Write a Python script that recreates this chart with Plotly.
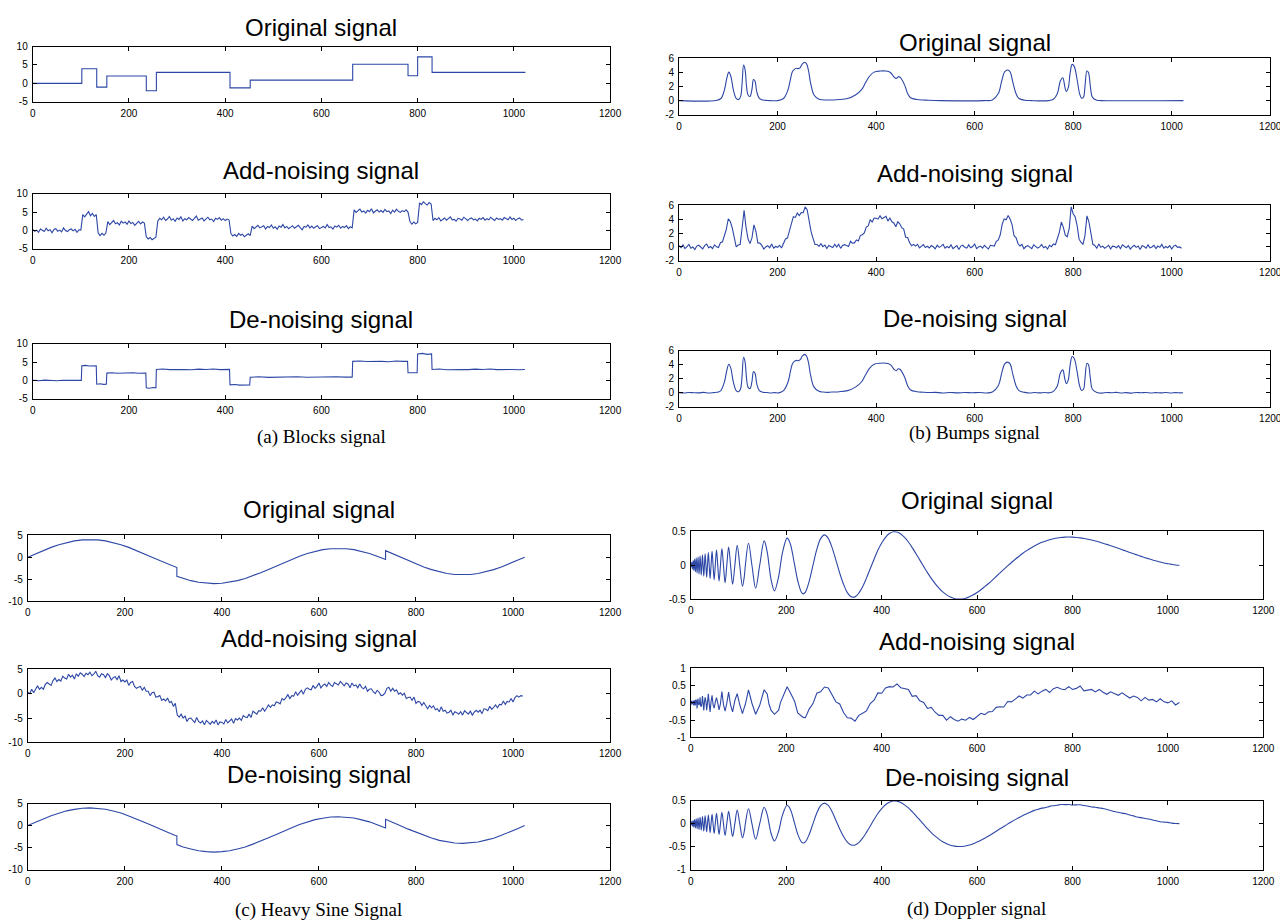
import numpy as np
import plotly.graph_objects as go

W, H = 1288, 920
BLUE = '#2d47a6'

# ---------------- Blocks ----------------
blocks_edges = [0, 102, 133, 154, 236, 257, 410, 452, 665, 780, 800, 830, 1024]
blocks_levels = [0, 4, -1, 2, -2, 3, -1.2, 0.9, 5.2, 2.1, 7.2, 3.0, 3.0]

blocks_noisy = [
    0.3, -0.2, 0.1, -0.5, 0.4, 0.0, -0.3, 0.6, -0.1, 0.2, -0.6, 0.3, 0.5, -0.2, 0.1, -0.4, 0.7, 0.0, -0.3, 0.2,
    0.4, -0.1, 0.3, -0.5, 0.2, 0.1,
    4.3, 3.7, 4.4, 5.1, 4.0, 4.6, 3.8, 4.3,
    -0.6, -1.4, -0.8, -1.3, -0.7,
    2.4, 1.6, 2.2, 2.7, 1.8, 2.1, 1.5, 2.5, 2.0, 2.3, 1.7, 2.6, 1.9, 2.2, 1.4, 2.1, 2.5, 1.8, 2.3, 2.0,
    -1.7, -2.3, -1.9, -2.5, -2.1, -1.8,
    2.6, 3.3, 2.9, 3.6, 2.7, 3.1, 3.8, 2.8, 3.2, 2.5, 3.4, 3.0, 3.7, 2.6, 3.2, 2.9, 3.5, 3.1, 2.7, 3.3,
    3.9, 2.8, 3.0, 3.4, 2.6, 3.2, 3.6, 2.9, 3.1, 2.4, 3.3, 3.0, 3.5, 2.8, 3.2, 2.7, 3.1, 2.9,
    -0.9, -1.5, -1.1, -1.6, -0.8, -1.3, -1.0, -1.7, -1.2, -0.9, -1.4,
    1.2, 0.5, 1.0, 1.4, 0.7, 0.9, 1.3, 0.4, 1.1, 0.8, 1.5, 0.6, 1.0, 0.3, 1.2, 0.9, 1.6, 0.7, 1.1, 0.5,
    0.9, 1.3, 0.6, 1.0, 1.4, 0.8, 0.2, 1.1, 0.9, 1.5, 0.7, 1.2, 0.6, 1.0, 1.3, 0.5, 0.9, 1.1, 0.7, 1.6,
    0.8, 1.0, 0.4, 1.2, 0.9, 1.4, 0.6, 1.1, 0.8, 1.3, 0.5, 1.0, 0.7,
    5.6, 4.9, 5.4, 5.8, 5.0, 5.3, 4.7, 5.5, 5.1, 5.9, 4.8, 5.2, 5.6, 5.0, 5.4, 4.9, 5.7, 5.1, 5.3, 4.6,
    5.5, 5.0, 5.8, 5.2, 4.9, 5.4, 5.1, 5.6, 5.0,
    2.4, 1.7, 2.3, 1.8, 2.2,
    7.5, 7.0, 7.8, 7.3, 6.9, 7.6, 7.2,
    2.7, 3.3, 2.9, 3.5, 2.6, 3.1, 3.4, 2.8, 3.2, 3.7, 2.9, 3.0, 2.5, 3.3, 3.1, 2.8, 3.6, 3.0, 2.7, 3.2,
    3.4, 2.9, 3.1, 2.6, 3.3, 3.0, 3.5, 2.8, 3.2, 2.9, 3.6, 3.1, 2.7, 3.4, 3.0, 3.2, 2.8, 3.5, 3.1, 2.9,
    3.7, 3.0, 3.3, 2.7, 3.2, 3.4, 2.8, 3.0,
]

blocks_dn_x = [0, 12, 25, 38, 50, 62, 75, 88, 101,
               102, 110, 118, 126, 132,
               133, 140, 147, 153,
               154, 165, 176, 187, 198, 209, 220, 235,
               236, 243, 250, 256,
               257, 270, 285, 300, 315, 330, 345, 360, 375, 390, 409,
               410, 420, 430, 440, 451,
               452, 470, 490, 510, 530, 550, 570, 590, 610, 630, 650, 664,
               665, 680, 695, 710, 725, 740, 755, 770, 779,
               780, 790, 799,
               800, 810, 820, 829,
               830, 845, 860, 875, 890, 905, 920, 935, 950, 965, 980, 995, 1010, 1023]
blocks_dn_y = [0.05, -0.05, 0.1, 0.0, -0.08, 0.06, 0.0, -0.05, 0.03,
               4.0, 4.1, 3.95, 4.05, 4.0,
               -1.0, -0.9, -1.05, -1.0,
               2.0, 2.1, 1.95, 2.05, 2.0, 2.08, 1.97, 2.0,
               -2.0, -2.1, -1.9, -2.0,
               3.0, 3.1, 2.95, 3.05, 3.0, 2.92, 3.08, 3.0, 3.1, 2.95, 3.0,
               -1.2, -1.1, -1.25, -1.15, -1.2,
               0.9, 1.0, 0.85, 0.95, 0.9, 1.0, 0.88, 0.95, 0.9, 1.02, 0.9, 0.9,
               5.2, 5.3, 5.15, 5.25, 5.2, 5.1, 5.28, 5.2, 5.2,
               2.1, 2.0, 2.1,
               7.2, 7.35, 7.1, 7.2,
               3.0, 3.1, 2.92, 3.05, 3.0, 2.95, 3.08, 3.0, 3.1, 2.95, 3.05, 3.0, 2.9, 3.0]

# ---------------- Bumps ----------------
bumps_x = [0, 75, 85, 92, 97, 101, 105, 110, 116, 121, 125, 128, 131, 134, 137, 140, 144, 148, 151, 154,
           158, 163, 170, 180, 200, 212, 221, 226, 230, 234, 238, 242, 246, 250, 255, 259, 263, 267, 274, 284,
           300, 325, 342, 358, 371, 379, 387, 396, 408, 420, 429, 437, 441, 445, 449, 458, 464, 470, 483, 507,
           530, 620, 636, 648, 655, 661, 667, 672, 677, 684, 690, 702, 715, 750, 760, 768, 774, 779, 783, 786,
           790, 794, 798, 802, 808, 813, 817, 821, 824, 828, 831, 835, 839, 848, 856, 1024]
bumps_y = [0, 0.02, 0.3, 1.5, 3.2, 4.05, 3.5, 1.6, 0.3, 0.15, 0.6, 2.5, 5.05, 4.4, 2.0, 0.8, 0.6, 1.6, 3.0, 2.8,
           1.2, 0.3, 0.08, 0.02, 0.0, 0.3, 1.5, 3.0, 4.1, 4.45, 4.6, 4.55, 4.7, 5.2, 5.45, 5.2, 4.2, 2.5, 0.8, 0.2,
           0.08, 0.15, 0.3, 0.8, 1.6, 2.6, 3.5, 4.05, 4.2, 4.2, 4.0, 3.3, 3.15, 3.4, 3.3, 2.2, 1.0, 0.4, 0.15, 0.05,
           0.0, 0.0, 0.1, 1.0, 2.8, 4.1, 4.35, 4.1, 2.8, 1.0, 0.3, 0.05, 0.0, 0.0, 0.2, 1.0, 2.8, 3.25, 2.0, 1.3,
           1.8, 4.0, 5.15, 4.9, 3.0, 1.0, 0.35, 0.5, 2.0, 4.2, 4.0, 2.0, 0.5, 0.05, 0.0, 0.0]

bumps_noisy = [
    0.18, -0.12, 0.3, -0.24, 0.06, 0.36, -0.18, 0.0, -0.36, 0.12, 0.24, -0.06, -0.3, 0.18, 0.42, -0.12,
    0.06, -0.24, 0.3, 0.02, -0.08, 0.61, 0.74, 1.62, 2.58, 4.08, 3.68, 2.74, 1.06, 0.0, 0.27, 0.34,
    2.74, 5.3, 2.8, 1.16, 0.48, 1.3, 3.18, 2.26, 0.56, 0.55, 0.22, -0.31, 0.0, 0.18, -0.12, 0.42,
    -0.18, 0.06, -0.06, 0.24, -0.15, 0.42, 1.16, 1.28, 2.26, 3.6, 4.38, 4.27, 4.9, 4.54, 4.96, 4.94,
    5.8, 5.4, 3.62, 2.2, 1.24, 0.36, 0.36, 0.08, 0.48, 0.04, 0.26, -0.22, 0.22, 0.1, -0.08, 0.4,
    -0.02, 0.39, -0.21, 0.21, 0.33, 0.19, 0.06, 0.82, 0.55, 0.58, 1.02, 0.85, 1.64, 1.76, 2.02, 2.88,
    3.04, 3.91, 3.61, 4.17, 4.15, 4.02, 4.5, 4.08, 4.26, 4.44, 3.74, 4.18, 3.64, 3.47, 2.91, 3.65,
    3.35, 2.78, 2.58, 1.4, 1.36, 0.61, 0.17, 0.37, 0.12, 0.38, -0.14, 0.06, 0.35, -0.08, 0.09, -0.16,
    0.2, 0.02, -0.28, 0.24, -0.06, 0.12, 0.36, -0.18, 0.06, -0.12, 0.3, -0.24, 0.0, 0.18, -0.36, 0.12,
    0.24, -0.06, -0.18, 0.3, -0.12, 0.06, 0.42, -0.24, 0.0, 0.12, -0.18, 0.24, -0.06, -0.3, 0.23, 0.16,
    0.13, 0.8, 1.0, 1.76, 3.28, 4.06, 3.94, 4.54, 4.04, 3.22, 1.62, 1.36, 0.5, 0.13, 0.36, -0.25,
    0.06, 0.18, -0.06, -0.24, 0.3, 0.12, -0.18, 0.0, 0.36, -0.12, 0.06, -0.3, 0.23, 0.04, 0.44, 0.32,
    1.12, 2.14, 3.6, 2.86, 1.7, 1.48, 2.68, 5.8, 4.8, 4.36, 3.12, 1.12, 0.64, 0.4, 1.64, 4.5,
    3.64, 1.8, 0.38, 0.21, -0.19, 0.42, -0.06, 0.12, -0.18, 0.0, 0.24, -0.3, 0.12, 0.06, -0.12, 0.18,
    -0.24, 0.3, 0.06, -0.12, 0.18, -0.3, 0.0, 0.24, -0.06, 0.12, -0.36, 0.18, 0.06, -0.18, 0.3, -0.12,
    0.0, 0.24, -0.24, 0.12, -0.06, 0.36, -0.18, 0.06, -0.12, 0.18, -0.3, 0.12, 0.24, -0.06, 0.0, -0.18,
]

bumps_dn_x = [0, 10, 20, 30, 40, 50, 60, 70, 80, 85, 92, 97, 101, 105, 110, 116, 121, 125, 128, 131,
              134, 137, 140, 144, 148, 151, 154, 158, 163, 170, 178, 186, 194, 202, 212, 221, 226, 230, 234, 238,
              242, 246, 250, 255, 259, 263, 267, 274, 284, 292, 300, 310, 325, 342, 358, 371, 379, 387, 396, 408,
              420, 429, 437, 441, 445, 449, 458, 464, 470, 483, 495, 507, 520, 535, 550, 565, 580, 595, 610, 625,
              636, 648, 655, 661, 667, 672, 677, 684, 690, 702, 712, 722, 732, 742, 752, 760, 768, 774, 779, 783,
              786, 790, 794, 798, 802, 808, 813, 817, 821, 824, 828, 831, 835, 839, 848, 858, 868, 878, 888, 898,
              908, 918, 928, 938, 948, 958, 968, 978, 988, 998, 1008, 1018, 1023]
bumps_dn_y = [0.02, -0.03, 0.04, 0.0, -0.02, 0.05, -0.04, 0.01, 0.1, 0.32, 1.5, 3.2, 4.05, 3.5, 1.6, 0.3, 0.15, 0.6, 2.5, 5.05,
              4.4, 2.0, 0.8, 0.6, 1.6, 3.0, 2.8, 1.2, 0.3, 0.06, 0.03, -0.04, 0.02, -0.02, 0.3, 1.5, 3.0, 4.1, 4.45, 4.6,
              4.55, 4.7, 5.2, 5.45, 5.2, 4.2, 2.5, 0.8, 0.2, 0.1, 0.05, 0.1, 0.15, 0.3, 0.8, 1.6, 2.6, 3.5, 4.05, 4.2,
              4.2, 4.0, 3.3, 3.15, 3.4, 3.3, 2.2, 1.0, 0.4, 0.15, 0.08, 0.03, 0.05, -0.03, 0.04, -0.02, 0.03, 0.0, 0.04, -0.03,
              0.1, 1.0, 2.8, 4.1, 4.35, 4.1, 2.8, 1.0, 0.3, 0.05, -0.03, 0.04, -0.02, 0.03, -0.01, 0.2, 1.0, 2.8, 3.25, 2.0,
              1.3, 1.8, 4.0, 5.15, 4.9, 3.0, 1.0, 0.35, 0.5, 2.0, 4.2, 4.0, 2.0, 0.5, 0.05, -0.06, 0.04, 0.0, 0.05, -0.03,
              0.02, -0.05, 0.03, 0.0, 0.04, -0.04, 0.02, -0.02, 0.04, -0.03, 0.02, -0.02, 0.0]

# ---------------- Heavy sine ----------------
hs_x = [0, 16, 32, 48, 64, 80, 96, 112, 128, 144, 160, 176, 192, 208, 224, 240, 256, 272, 288, 304,
        307.2, 307.2,
        320, 336, 352, 368, 384, 400, 416, 432, 448, 464, 480, 496, 512, 528, 544, 560, 576, 592, 608, 624,
        640, 656, 672, 688, 704, 720, 736,
        737.3, 737.3,
        752, 768, 784, 800, 816, 832, 848, 864, 880, 896, 912, 928, 944, 960, 976, 992, 1008, 1024]
hs_y = [0, 0.78, 1.53, 2.22, 2.83, 3.33, 3.70, 3.92, 4.0, 3.92, 3.70, 3.33, 2.83, 2.22, 1.53, 0.78, 0, -0.78, -1.53, -2.22,
        -2.35, -4.35,
        -4.83, -5.33, -5.70, -5.92, -6.0, -5.92, -5.70, -5.33, -4.83, -4.22, -3.53, -2.78, -2.0, -1.22, -0.47, 0.22, 0.83, 1.33, 1.70, 1.92,
        2.0, 1.92, 1.70, 1.33, 0.83, 0.22, -0.47,
        -0.53, 1.47,
        0.78, 0, -0.78, -1.53, -2.22, -2.83, -3.33, -3.70, -3.92, -4.0, -3.92, -3.70, -3.33, -2.83, -2.22, -1.53, -0.78, 0]

hs_noisy = [
    0.3, 0.0, 0.9, 0.2, 0.9, 1.6, 0.9, 1.3, 0.9, 1.9, 2.3, 2.0, 1.7, 2.7, 3.2, 2.5,
    2.9, 2.6, 3.6, 3.2, 3.0, 4.0, 3.4, 3.8, 3.0, 4.1, 3.6, 4.3, 4.0, 3.5, 4.2, 3.9,
    4.4, 3.7, 4.0, 4.6, 3.7, 3.4, 4.1, 3.9, 3.3, 4.1, 3.7, 2.8, 3.3, 3.5, 2.9, 3.7,
    2.5, 2.8, 2.4, 2.8, 1.7, 2.3, 2.5, 1.5, 1.1, 1.3, 1.5, 0.7, 1.3, 0.5, 0.5, -0.4,
    0.2, 0.3, -0.7, -0.6, -0.4, -1.4, -1.1, -1.5, -0.9, -1.8, -1.6, -2.6, -2.0, -4.4, -4.8, -4.2,
    -5.0, -4.6, -5.7, -5.1, -5.0, -5.5, -5.9, -4.9, -5.7, -6.0, -5.6, -6.4, -5.5, -5.9, -6.3, -5.7,
    -6.1, -5.4, -6.4, -5.8, -5.9, -6.2, -5.3, -6.0, -5.6, -5.2, -6.1, -5.1, -5.4, -5.0, -5.5, -4.5,
    -4.8, -4.9, -4.2, -4.9, -3.6, -4.0, -4.2, -3.5, -3.6, -2.9, -3.6, -3.0, -2.3, -2.8, -2.3, -2.5,
    -1.7, -1.8, -2.1, -1.0, -1.3, -0.8, -0.2, -1.0, -0.4, -0.5, 0.4, -0.3, 0.2, 0.7, -0.1, 0.9,
    1.2, 0.9, 0.8, 1.7, 1.1, 1.5, 2.2, 1.2, 1.7, 2.0, 1.5, 2.3, 1.8, 1.5, 2.3, 2.1,
    1.8, 2.5, 2.0, 1.6, 2.2, 2.0, 1.2, 2.2, 1.6, 1.8, 1.2, 2.0, 1.3, 1.0, 1.5, 0.5,
    0.9, 1.0, 0.4, 0.0, 0.7, 0.3, -0.4, -0.3, 0.1, 1.1, 1.3, 0.5, 1.1, 0.5, 0.8, -0.1,
    0.2, -0.3, 0.1, -1.0, -0.8, -0.7, -1.4, -0.7, -2.0, -1.6, -1.7, -2.4, -1.8, -2.4, -3.1, -2.4,
    -2.9, -2.5, -3.3, -3.1, -3.7, -2.7, -3.6, -3.4, -4.0, -3.8, -3.4, -4.4, -3.7, -3.9, -4.2, -3.7,
    -4.4, -3.5, -3.9, -4.2, -3.6, -4.4, -3.8, -3.4, -3.8, -3.4, -4.1, -3.1, -3.2, -3.5, -2.6, -3.2,
    -2.8, -2.3, -2.9, -2.2, -2.3, -1.5, -2.2, -1.6, -1.7, -1.0, -1.7, -0.8, -0.4, -0.7, -0.4, -0.5,
]

hs_dn_y = [0.05, 0.8, 1.5, 2.25, 2.8, 3.35, 3.68, 3.95, 4.02, 3.9, 3.72, 3.3, 2.85, 2.2, 1.55, 0.75, 0.02, -0.8, -1.5, -2.25,
           -2.3, -4.3,
           -4.85, -5.3, -5.72, -5.9, -6.02, -5.9, -5.72, -5.3, -4.85, -4.2, -3.55, -2.75, -2.02, -1.2, -0.5, 0.25, 0.8, 1.35, 1.68, 1.95,
           2.02, 1.9, 1.72, 1.3, 0.85, 0.2, -0.45,
           -0.55, 1.45,
           0.8, -0.02, -0.8, -1.5, -2.25, -2.8, -3.35, -3.68, -3.95, -4.02, -3.9, -3.72, -3.3, -2.85, -2.2, -1.55, -0.75, 0.0]

# ---------------- Doppler ----------------
dop_head_x = [0, 0.6, 1.25, 1.9, 2.56, 3.2, 3.94, 4.65, 5.39, 6.1, 6.92, 7.7, 8.53, 9.4, 10.24, 11.1, 12.05, 13.0,
              13.96, 15.0, 16.0, 17.1, 18.17, 19.3, 20.48, 21.7, 22.95, 24.3, 25.6, 27.0, 28.44, 29.9, 31.5, 33.1,
              34.8, 36.6, 38.4, 40.3, 42.3, 44.4, 46.5, 48.8, 51.2, 53.7, 56.3, 59.1, 62.0, 65.0, 68.3, 71.7, 75.3,
              79.1, 83.2, 87.5, 92.2, 97.1, 102.4, 108.1,
              112, 114.2, 120.8, 128, 135.8, 144.3, 153.6, 160, 163.8, 168, 175.2, 184, 187.7, 192, 201.8, 208,
              217.6, 224, 232, 235.5, 240, 248, 256]
dop_head_y = [0, -0.024, 0, 0.043, 0, -0.056, 0, 0.067, 0, -0.077, 0, 0.086, 0, -0.095, 0, 0.104, 0, -0.112,
              0, 0.120, 0, -0.128, 0, 0.136, 0, -0.144, 0, 0.152, 0, -0.160, 0, 0.168, 0, -0.177,
              0, 0.186, 0, -0.195, 0, 0.204, 0, -0.213, 0, 0.223, 0, -0.233, 0, 0.244, 0, -0.255, 0,
              0.267, 0, -0.279, 0, 0.293, 0, -0.307,
              -0.164, 0, 0.323, 0, -0.339, 0, 0.357, 0.197, 0, -0.208, -0.377, -0.166, 0, 0.186, 0.398, 0.323,
              0, -0.228, -0.401, -0.421, -0.396, -0.236, 0]
dop_tail_x = list(range(264, 1017, 8)) + [1024]
dop_tail_y = [0.232, 0.391, 0.446, 0.394, 0.259, 0.075, -0.115, -0.280, -0.402, -0.463, -0.465, -0.411, -0.316, -0.190, -0.051,
              0.088, 0.221, 0.327, 0.410, 0.465, 0.491, 0.488, 0.459, 0.408, 0.341, 0.259, 0.169, 0.075, -0.018, -0.109,
              -0.194, -0.270, -0.336, -0.392, -0.436, -0.468, -0.488, -0.497, -0.495, -0.484, -0.463, -0.435, -0.400,
              -0.360, -0.315, -0.268, -0.218,
              -0.166, -0.113, -0.061, -0.010, 0.040, 0.087, 0.132, 0.175, 0.214, 0.249, 0.282, 0.311, 0.336, 0.357,
              0.375, 0.389, 0.400, 0.408, 0.412, 0.414, 0.412, 0.408, 0.402, 0.393, 0.382, 0.370, 0.356, 0.340,
              0.323, 0.306, 0.287, 0.268,
              0.248, 0.228, 0.208, 0.188, 0.168, 0.149, 0.130, 0.111, 0.094, 0.077, 0.061, 0.047, 0.033, 0.022,
              0.012, 0.004, 0.0]

dop_noisy_head_y = [0.04, -0.05, 0.06, -0.01, 0.01, 0.02, -0.04, 0.07, -0.07, -0.05, 0.05, 0.07, -0.06, -0.06,
                    0.08, 0.08, 0.01, -0.16, 0.06, 0.12, -0.04, -0.06, -0.01, 0.16, -0.08, -0.11, -0.02, 0.2,
                    0.01, -0.22, 0.02, 0.16, 0.05, -0.21, 0.0, 0.26, -0.02, -0.26, 0.04, 0.22, -0.05, -0.15,
                    0.02, 0.15, 0.0, -0.2, -0.02, 0.33, -0.04, -0.24, -0.01, 0.31, -0.06, -0.26, 0.07, 0.27,
                    -0.05, -0.31,
                    -0.13, -0.04, 0.38, -0.01, -0.33, -0.07, 0.38, 0.26, -0.04, -0.21, -0.33, -0.21, 0.01, 0.16,
                    0.47, 0.31, 0.04, -0.29, -0.38, -0.42, -0.43, -0.18, -0.02]
dop_noisy_tail_y = [0.28, 0.32, 0.46, 0.43, 0.25, 0.03, -0.03, -0.28, -0.43, -0.44, -0.53, -0.36, -0.3, -0.23, -0.02,
                    0.08, 0.29, 0.28, 0.43, 0.47, 0.46, 0.55, 0.44, 0.42, 0.39, 0.19, 0.21, 0.06, 0.01, -0.16,
                    -0.13, -0.27, -0.36, -0.36, -0.5, -0.4, -0.48, -0.53, -0.47, -0.5, -0.42, -0.48, -0.4, -0.3,
                    -0.34, -0.26, -0.25,
                    -0.13, -0.11, -0.12, 0.04, 0.03, 0.11, 0.2, 0.14, 0.23, 0.23, 0.34, 0.26, 0.34, 0.39, 0.3,
                    0.41, 0.45, 0.4, 0.38, 0.47, 0.39, 0.42, 0.49, 0.35, 0.38, 0.39, 0.32, 0.39, 0.31, 0.25,
                    0.32, 0.28,
                    0.22, 0.29, 0.21, 0.14, 0.2, 0.16, 0.06, 0.16, 0.08, 0.1, 0.03, 0.12, 0.03, 0.0, 0.06, -0.06, 0.01]
dop_dn_tail_y = [0.232, 0.391, 0.446, 0.394, 0.259, 0.075, -0.115, -0.280, -0.402, -0.463, -0.465, -0.411, -0.316, -0.190, -0.051,
                 0.088, 0.221, 0.327, 0.410, 0.465, 0.491, 0.488, 0.459, 0.408, 0.341, 0.259, 0.169, 0.075, -0.018, -0.109,
                 -0.194, -0.270, -0.336, -0.392, -0.436, -0.468, -0.488, -0.497, -0.495, -0.484, -0.463, -0.435, -0.400,
                 -0.360, -0.315, -0.268, -0.218,
                 -0.166, -0.113, -0.061, -0.010, 0.040, 0.087, 0.132, 0.175, 0.214, 0.255, 0.288, 0.311, 0.336, 0.350,
                 0.375, 0.389, 0.400, 0.415, 0.412, 0.414, 0.405, 0.408, 0.410, 0.393, 0.382, 0.362, 0.356, 0.340,
                 0.330, 0.306, 0.287, 0.262,
                 0.248, 0.228, 0.214, 0.188, 0.168, 0.143, 0.130, 0.111, 0.100, 0.077, 0.061, 0.041, 0.033, 0.027,
                 0.012, 0.004, 0.0]

# ---------------- tick labels ----------------
x_ticks = [0, 200, 400, 600, 800, 1000, 1200]
y_ticks_blocks = [-5, 0, 5, 10]
y_ticks_bumps = [-2, 0, 2, 4, 6]
y_ticks_hs = [-10, -5, 0, 5]
y_ticks_dop1 = [-0.5, 0, 0.5]
y_ticks_dop2 = [-1, -0.5, 0, 0.5, 1]
y_ticks_dop3 = [-1, -0.5, 0, 0.5]

titles = ['Original signal', 'Add-noising signal', 'De-noising signal']
captions = ['(a) Blocks signal', '(b) Bumps signal', '(c) Heavy Sine Signal', '(d) Doppler signal']

grid4 = list(np.arange(0, 1024, 4))
dop_x = dop_head_x + dop_tail_x

# ---------------- layout (pixel boxes) ----------------
# (x0, x1, ytop, ybottom, yrange, yticks, title_y, trace)
panels = [
    (18, 604, 33, 89, [-5, 10], y_ticks_blocks, 14,
     dict(x=blocks_edges, y=blocks_levels, line_shape='hv')),
    (18, 604, 182, 238, [-5, 10], y_ticks_blocks, 159,
     dict(x=grid4[:len(blocks_noisy)], y=blocks_noisy, line_shape='linear')),
    (18, 604, 334, 390, [-5, 10], y_ticks_blocks, 310,
     dict(x=blocks_dn_x, y=blocks_dn_y, line_shape='linear')),
    (674, 1274, 45, 102, [-2, 6], y_ticks_bumps, 29,
     dict(x=bumps_x, y=bumps_y, line_shape='spline')),
    (674, 1274, 194, 250, [-2, 6], y_ticks_bumps, 162,
     dict(x=grid4[:len(bumps_noisy)], y=bumps_noisy, line_shape='linear')),
    (674, 1274, 341, 398, [-2, 6], y_ticks_bumps, 309,
     dict(x=bumps_dn_x, y=bumps_dn_y, line_shape='spline')),
    (13, 604, 528, 595, [-10, 5], y_ticks_hs, 502,
     dict(x=hs_x, y=hs_y, line_shape='linear')),
    (13, 604, 664, 738, [-10, 5], y_ticks_hs, 633,
     dict(x=grid4[:len(hs_noisy)], y=hs_noisy, line_shape='linear')),
    (13, 604, 800, 867, [-10, 5], y_ticks_hs, 771,
     dict(x=hs_x, y=hs_dn_y, line_shape='linear')),
    (686, 1267, 524, 593, [-0.5, 0.5], y_ticks_dop1, 493,
     dict(x=dop_x, y=dop_head_y + dop_tail_y, line_shape='spline')),
    (686, 1267, 663, 733, [-1, 1], y_ticks_dop2, 636,
     dict(x=dop_x, y=dop_noisy_head_y + dop_noisy_tail_y, line_shape='linear')),
    (686, 1267, 797, 867, [-1, 0.5], y_ticks_dop3, 774,
     dict(x=dop_x, y=dop_head_y + dop_dn_tail_y, line_shape='spline')),
]
caption_pos = [(311, 429), (974, 425), (308, 908), (976, 907)]

fig = go.Figure()
layout = {}
annotations = []
TICKFONT = dict(family='Liberation Sans, Arial', size=10, color='black')


def fmt(v):
    return '%g' % v


for i, (x0, x1, yt, yb, yr, yt_vals, ty, tr) in enumerate(panels, start=1):
    sfx = '' if i == 1 else str(i)
    n = min(len(tr['x']), len(tr['y']))
    fig.add_trace(go.Scatter(
        x=list(tr['x'])[:n], y=list(tr['y'])[:n], mode='lines',
        line=dict(color=BLUE, width=1.1, shape=tr['line_shape']),
        xaxis='x' + sfx, yaxis='y' + sfx, showlegend=False, hoverinfo='skip'))
    common = dict(showline=True, linecolor='black', linewidth=1, mirror='ticks',
                  ticks='inside', ticklen=4, tickcolor='black', tickwidth=1,
                  showgrid=False, zeroline=False, tickfont=TICKFONT, ticklabelstandoff=2)
    layout['xaxis' + sfx] = dict(domain=[x0 / W, x1 / W], anchor='y' + sfx, range=[0, 1200],
                                 tickmode='array', tickvals=x_ticks,
                                 ticktext=[fmt(v) for v in x_ticks], **common)
    layout['yaxis' + sfx] = dict(domain=[1 - yb / H, 1 - yt / H], anchor='x' + sfx, range=yr,
                                 tickmode='array', tickvals=yt_vals,
                                 ticktext=[fmt(v) for v in yt_vals], **common)
    annotations.append(dict(text=titles[(i - 1) % 3], x=(x0 + x1) / 2 / W, y=1 - ty / H,
                            xref='paper', yref='paper', xanchor='center', yanchor='middle',
                            showarrow=False,
                            font=dict(family='Liberation Sans, Arial', size=24, color='black')))

for cap, (cx, cy) in zip(captions, caption_pos):
    annotations.append(dict(text=cap, x=cx / W, y=1 - cy / H, xref='paper', yref='paper',
                            xanchor='center', yanchor='middle', showarrow=False,
                            font=dict(family='Liberation Serif, Times New Roman', size=19, color='black')))

fig.update_layout(width=W, height=H, margin=dict(l=0, r=0, t=0, b=0),
                  paper_bgcolor='white', plot_bgcolor='white',
                  annotations=annotations, showlegend=False, **layout)

fig.write_html('out.html')
